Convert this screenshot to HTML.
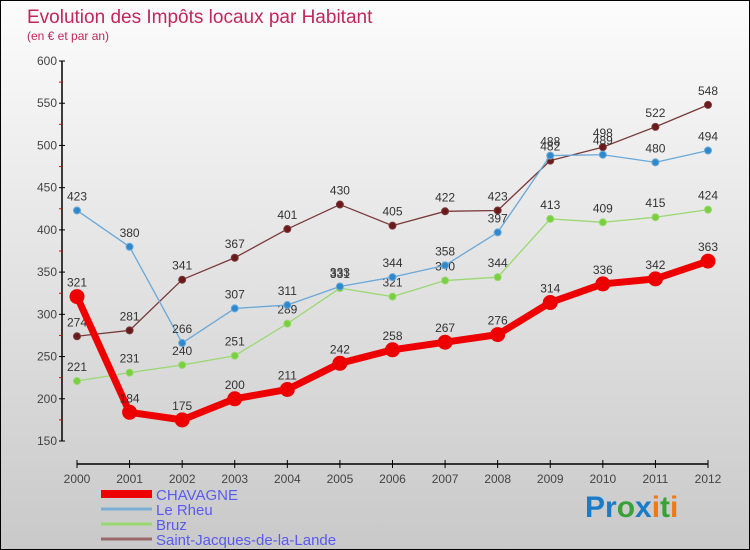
<!DOCTYPE html>
<html><head><meta charset="utf-8"><style>
body{margin:0;}
#wrap{position:relative;width:750px;height:550px;box-sizing:border-box;border:1px solid #000;background:linear-gradient(#fcfcfc,#c9c9c9);font-family:"Liberation Sans","DejaVu Sans",sans-serif;overflow:hidden}
svg{position:absolute;left:0;top:0}
</style></head><body>
<div id="wrap">
<svg id="chart" width="750" height="550">
<text x="26" y="22" font-size="19" fill="#c2265a">Evolution des Impôts locaux par Habitant</text>
<text x="26" y="39" font-size="12" fill="#c2265a">(en € et par an)</text>
<text x="584" y="516" font-size="30" font-weight="bold"><tspan fill="#1a7cc8">Pr</tspan><tspan fill="#3aa03a">o</tspan><tspan fill="#1a7cc8">x</tspan><tspan fill="#f07a10">i</tspan><tspan fill="#3aa03a">t</tspan><tspan fill="#f07a10">i</tspan></text>
</svg>
</div>
<script>
const years=[2000,2001,2002,2003,2004,2005,2006,2007,2008,2009,2010,2011,2012];
const yTicks=[150,200,250,300,350,400,450,500,550,600];
const chavagne=[321,184,175,200,211,242,258,267,276,314,336,342,363];
const leRheu=[423,380,266,307,311,333,344,358,397,488,489,480,494];
const bruz=[221,231,240,251,289,331,321,340,344,413,409,415,424];
const saintJacques=[274,281,341,367,401,430,405,422,423,482,498,522,548];
const seriesNames=["CHAVAGNE","Le Rheu","Bruz","Saint-Jacques-de-la-Lande"];
const NS="http://www.w3.org/2000/svg";
const svg=document.getElementById('chart');
function X(i){return 76+i*(707-76)/(years.length-1);}
function Y(v){return 440-(v-150)*(380/450);}
function mk(t,a,p){const e=document.createElementNS(NS,t);for(const k in a)e.setAttribute(k,a[k]);(p||svg).appendChild(e);return e;}
// y axis
let ya=mk('line',{x1:61,y1:60,x2:61,y2:440,stroke:'#000','stroke-width':1.5});


yTicks.forEach((v,i)=>{
 mk('line',{x1:58,x2:64,y1:Y(v),y2:Y(v),stroke:'#000'});
 let t=mk('text',{x:56,y:Y(v)+4,'font-size':12,fill:'#444','text-anchor':'end'});t.textContent=v;
 
 
 if(i<yTicks.length-1){mk('line',{x1:58,x2:61,y1:Y(v+25),y2:Y(v+25),stroke:'#e00'});}
});
// x axis
let xa=mk('line',{x1:76,y1:463,x2:707,y2:463,stroke:'#000','stroke-width':1.5});


years.forEach((y,i)=>{
 mk('line',{x1:X(i),x2:X(i),y1:459,y2:467,stroke:'#000'});
 let t=mk('text',{x:X(i),y:482,'font-size':12,fill:'#444','text-anchor':'middle'});t.textContent=y;
 
 
});
function series(data,color,dot,w,r,name){
 const g=mk('g',{});
 
 
 mk('polyline',{points:data.map((v,i)=>X(i)+','+Y(v)).join(' '),fill:'none',stroke:color,'stroke-width':w,'stroke-linejoin':'round'},g);
 data.forEach((v,i)=>{
  const c=mk('circle',{cx:X(i),cy:Y(v),r:r,fill:dot,stroke:color,'stroke-width':1},g);
  
  
  const t=mk('text',{x:X(i),y:Y(v)-10,'font-size':12,fill:'#333','text-anchor':'middle'},g);t.textContent=v;
  
  
 });
}
series(saintJacques,'#7a3a3a','#6a1a1a',1.3,3.5,'saint-jacques');
series(bruz,'#9ad870','#78d040',1.3,3.5,'bruz');
series(leRheu,'#6aa8d8','#2f88cc',1.3,3.5,'le-rheu');
series(chavagne,'#ee0000','#ee0000',7,7,'chavagne');
const lc=['#ee0000','#7aaed6','#98d870','#9a6a6a'];
const lw=[8,3,3,3];
seriesNames.forEach((n,i)=>{
 const yy=493+i*15;
 const g=mk('g',{});
 
 
 mk('line',{x1:100,x2:151,y1:yy,y2:yy,stroke:lc[i],'stroke-width':lw[i]},g);
 const t=mk('text',{x:155,y:yy+6,'font-size':15,fill:'#5a5af0'},g);t.textContent=n;
});
</script>
</body></html>
